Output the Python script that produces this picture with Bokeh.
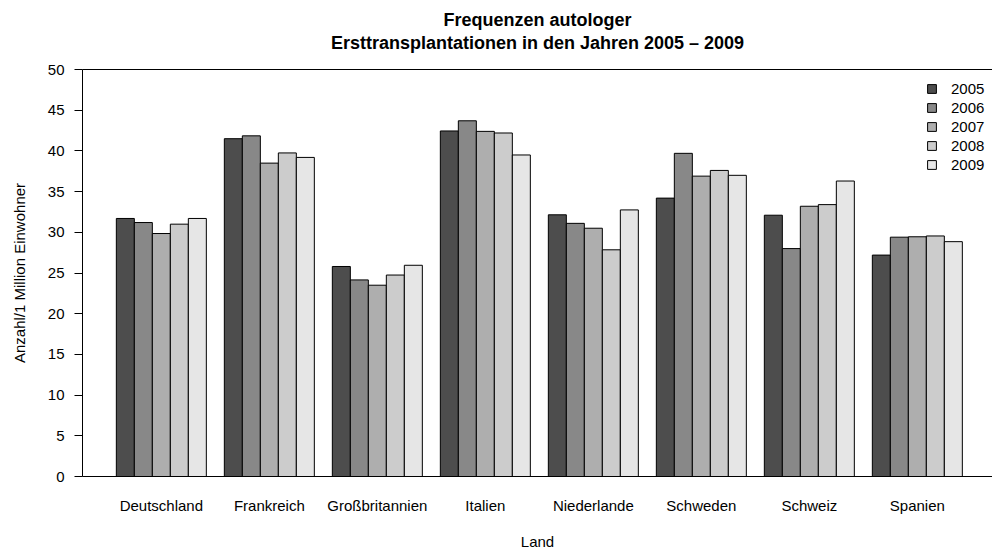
from bokeh.plotting import figure
from bokeh.models import (ColumnDataSource, Range1d, FixedTicker, LinearAxis,
                          Title, Legend, LegendItem)
from bokeh.embed import file_html
from bokeh.resources import INLINE

# ---- data -------------------------------------------------------------
countries = ["Deutschland", "Frankreich", "Großbritannien", "Italien",
             "Niederlande", "Schweden", "Schweiz", "Spanien"]
years = ["2005", "2006", "2007", "2008", "2009"]
v2005 = [31.7, 41.5, 25.8, 42.45, 32.15, 34.2, 32.1, 27.2]
v2006 = [31.2, 41.85, 24.15, 43.7, 31.1, 39.7, 28.0, 29.4]
v2007 = [29.85, 38.5, 23.5, 42.4, 30.5, 36.9, 33.2, 29.45]
v2008 = [31.0, 39.75, 24.75, 42.2, 27.85, 37.6, 33.4, 29.55]
v2009 = [31.7, 39.2, 25.95, 39.5, 32.75, 37.0, 36.3, 28.85]
series = [v2005, v2006, v2007, v2008, v2009]
colors = ["#4D4D4D", "#888888", "#AEAEAE", "#CCCCCC", "#E6E6E6"]
y_ticks = [0, 5, 10, 15, 20, 25, 30, 35, 40, 45, 50]

title1 = "Frequenzen autologer"
title2 = "Ersttransplantationen in den Jahren 2005 \u2013 2009"
FONT = "Liberation Sans"

# ---- layout in bar units (R barplot style: 1 bar gap between groups) --
n_years = len(years)
group_w = n_years + 1
n_bars_total = len(countries) * group_w
pad = 0.04 * (n_bars_total - 1)

W, H = 992, 552
LEFT, TOP, BOTTOM = 82, 69, 76

p = figure(width=W, height=H,
           x_range=Range1d(1 - pad, 1 - pad + (W - LEFT) / 18.0),
           y_range=Range1d(y_ticks[0], y_ticks[-1]),
           output_backend="svg", toolbar_location=None,
           min_border_left=LEFT, min_border_right=0,
           min_border_top=TOP, min_border_bottom=BOTTOM,
           title=title1)
p.outline_line_color = None
p.xgrid.visible = False
p.ygrid.visible = False
p.background_fill_color = "white"
p.border_fill_color = "white"

items = []
for k, (yr, vals, col) in enumerate(zip(years, series, colors)):
    xs = [g * group_w + 1.5 + k for g in range(len(countries))]
    src = ColumnDataSource(dict(x=xs, top=vals, country=countries))
    r = p.vbar(x="x", top="top", bottom=0, width=1.0, source=src,
               fill_color=col, line_color="black", line_width=1)
    items.append(LegendItem(label=yr, renderers=[r]))

# ---- axes -------------------------------------------------------------
centers = [g * group_w + 1 + n_years / 2.0 for g in range(len(countries))]
xa = p.xaxis[0]
xa.ticker = FixedTicker(ticks=centers)
xa.major_label_overrides = {c: name for c, name in zip(centers, countries)}
xa.major_tick_out = 0
xa.major_tick_in = 0
xa.minor_tick_out = 0
xa.minor_tick_in = 0
xa.major_label_standoff = 20
xa.axis_label = "Land"
xa.axis_label_standoff = 16

ya = p.yaxis[0]
ya.ticker = FixedTicker(ticks=y_ticks)
ya.major_tick_out = 8
ya.major_tick_in = 0
ya.minor_tick_out = 0
ya.minor_tick_in = 0
ya.major_label_standoff = 10
ya.axis_label = "Anzahl/1 Million Einwohner"
ya.axis_label_standoff = 17

for ax in (xa, ya):
    ax.axis_line_color = "black"
    ax.axis_line_width = 1
    ax.major_tick_line_color = "black"
    ax.major_label_text_font = FONT
    ax.major_label_text_font_size = "15px"
    ax.major_label_text_color = "black"
    ax.axis_label_text_font = FONT
    ax.axis_label_text_font_size = "15px"
    ax.axis_label_text_font_style = "normal"
    ax.axis_label_text_color = "black"

# top border of the box (R's box()): an axis with only its line shown;
# one invisible tick gives the panel its height below the titles
top_axis = LinearAxis(ticker=FixedTicker(ticks=[centers[0]]),
                      major_tick_out=16, major_tick_in=0,
                      minor_tick_out=0, minor_tick_in=0,
                      major_tick_line_color=None, minor_tick_line_color=None,
                      major_label_text_font_size="0px",
                      major_label_text_alpha=0, major_label_standoff=0,
                      axis_line_color="black", axis_line_width=1)
p.add_layout(top_axis, "above")

# ---- titles -----------------------------------------------------------
p.title.text_font = FONT
p.title.text_font_size = "18px"
p.title.text_font_style = "bold"
p.title.align = "center"
p.title.text_color = "black"
p.title.standoff = 0

t2 = Title(text=title2, align="center", text_font=FONT,
           text_font_size="18px", text_font_style="bold",
           text_color="black", standoff=2)
p.add_layout(t2, "above")

# ---- legend -----------------------------------------------------------
legend = Legend(items=items, location=(844, 302),
                label_text_font=FONT, label_text_font_size="15px",
                label_text_color="black",
                glyph_width=11, glyph_height=11, label_height=19,
                label_standoff=14, spacing=0, padding=0, margin=0,
                border_line_color=None, background_fill_alpha=0)
p.add_layout(legend)

open("out.html", "w").write(file_html(p, INLINE))
